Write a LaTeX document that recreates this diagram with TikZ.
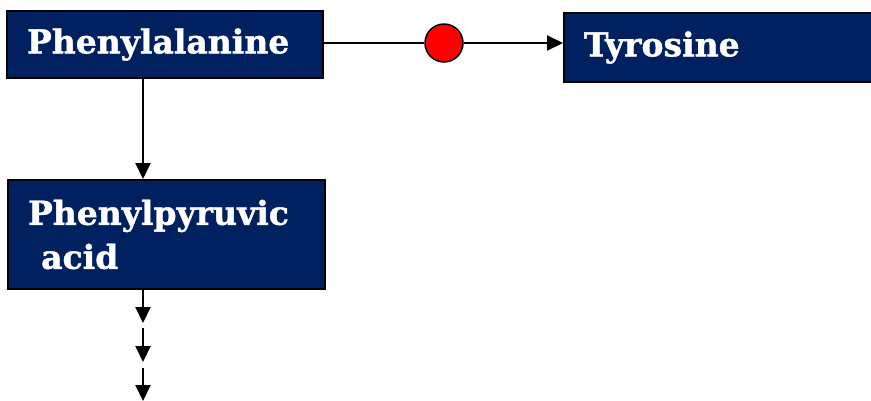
\documentclass[tikz,border=0pt]{standalone}
\usepackage{fontspec}
\setmainfont{DejaVu Serif}[BoldFeatures={FakeBold=1.2}]
\usetikzlibrary{arrows.meta}
\definecolor{navy}{RGB}{0,32,96}
\tikzset{
  metabox/.style={draw=black, line width=2pt, fill=navy, text=white,
    font=\fontsize{33}{44}\selectfont\bfseries, align=left,
    inner xsep=20pt, inner ysep=0pt},
  flow/.style={line width=2pt, -{Triangle[length=16pt,width=15pt]}},
  plain/.style={line width=2pt},
  block/.style={circle, draw=black, line width=1.5pt, fill=red, minimum size=38pt, inner sep=0pt}
}
\begin{document}
\begin{tikzpicture}[x=1pt,y=1pt]
\useasboundingbox (0,0) rectangle (871,-400);
\clip (0,0) rectangle (871,-400);
% metabolites
\node[metabox, minimum width=316pt, minimum height=67pt, text width=276pt] (phe) at (165,-44.5) {Phenylalanine};
\node[metabox, minimum width=317pt, minimum height=109pt, text width=277pt] (ppa) at (166.5,-234.5) {Phenylpyruvic\\\hspace*{0.4em}acid};
\node[metabox, minimum width=340pt, minimum height=69pt, text width=300pt, anchor=west] (tyr) at (563,-47.5) {Tyrosine};
% blocked hydroxylation
\node[block] (stop) at (444,-43) {};
\draw[plain] (phe.east |- stop) -- (stop.west);
\draw[flow] (stop.east) -- (tyr.west |- stop);
% transamination and further steps
\coordinate (col) at (143,0);
\coordinate (s1) at (143,-323);
\coordinate (s2a) at (143,-328);
\coordinate (s2) at (143,-362);
\coordinate (s3a) at (143,-368);
\coordinate (s3) at (143,-401);
\draw[flow] (phe.south -| col) -- (ppa.north -| col);
\draw[flow] (ppa.south -| col) -- (s1);
\draw[flow] (s2a) -- (s2);
\draw[flow] (s3a) -- (s3);
\end{tikzpicture}
\end{document}
